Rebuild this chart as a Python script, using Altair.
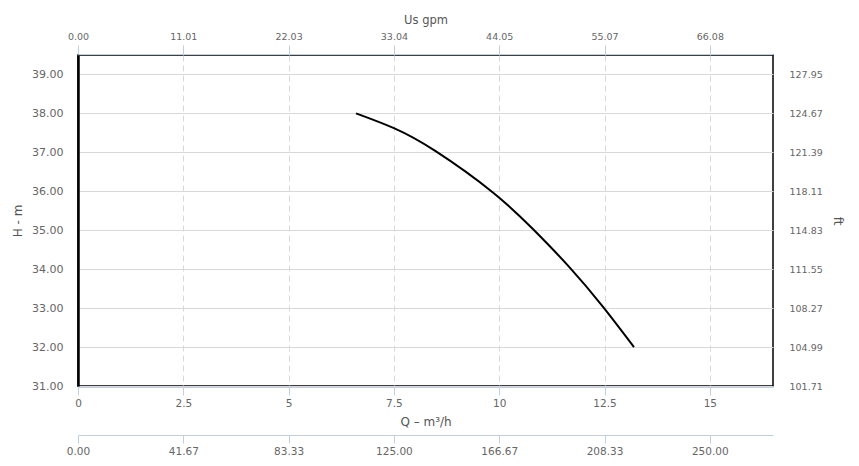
import altair as alt
import pandas as pd

# Curve
flow_m3h = [6.60, 7.5, 8.49, 9.85, 10.80, 11.66, 12.46, 13.20]
head_m = [38.0, 37.62, 37.03, 35.97, 35.03, 34.06, 33.04, 32.0]

# Axis ticks / labels
x_ticks = [0, 2.5, 5, 7.5, 10, 12.5, 15]
x_labels = ["0", "2.5", "5", "7.5", "10", "12.5", "15"]
gpm_labels = ["0.00", "11.01", "22.03", "33.04", "44.05", "55.07", "66.08"]
lmin_labels = ["0.00", "41.67", "83.33", "125.00", "166.67", "208.33", "250.00"]
y_ticks = [31, 32, 33, 34, 35, 36, 37, 38, 39]
ft_labels = ["101.71", "104.99", "108.27", "111.55", "114.83", "118.11", "121.39", "124.67", "127.95"]

df = pd.DataFrame({"Q": flow_m3h, "H": head_m})

FONT = "DejaVu Sans"
LABEL_C = "#666666"
TITLE_C = "#555555"
AXIS_C = "#C0D0E0"
GRID_C = "#D8D8D8"


def expr_map(ticks, labels):
    t = "[" + ",".join(str(v) for v in ticks) + "]"
    l = "[" + ",".join("'" + s + "'" for s in labels) + "]"
    return f"{l}[indexof({t}, datum.value)]"


xscale = alt.Scale(domain=[0, 16.5], nice=False, zero=False)
yscale = alt.Scale(domain=[31, 39.5], nice=False, zero=False)

x_bottom = alt.Axis(
    orient="bottom", values=x_ticks, labelExpr=expr_map(x_ticks, x_labels),
    title="Q – m³/h", grid=True, gridDash=[6, 4], gridColor=GRID_C,
    domainColor=AXIS_C, offset=1, tickColor=AXIS_C, tickSize=8,
    labelPadding=3, labelFont=FONT, labelFontSize=10.5, labelColor=LABEL_C,
    labelFlush=False,
    titleFont=FONT, titleFontSize=12, titleFontWeight="normal", titleColor=TITLE_C,
    titlePadding=8,
)
y_left = alt.Axis(
    orient="left", values=y_ticks, format=".2f", title="H - m",
    grid=True, gridColor=GRID_C, ticks=False, domainColor="black", domainWidth=2.5,
    labelPadding=15, labelFont=FONT, labelFontSize=11, labelColor=LABEL_C,
    labelFlush=False,
    titleFont=FONT, titleFontSize=12, titleFontWeight="normal", titleColor=TITLE_C,
    titlePadding=7,
)
x_lmin = alt.Axis(
    orient="bottom", values=x_ticks, labelExpr=expr_map(x_ticks, lmin_labels),
    title=None, grid=False, offset=49, domainColor=AXIS_C, tickColor=AXIS_C,
    tickSize=8, labelPadding=3, labelFont=FONT, labelFontSize=10.5, labelColor=LABEL_C,
    labelFlush=False,
)
y_right = alt.Axis(
    orient="right", values=y_ticks, labelExpr=expr_map(y_ticks, ft_labels),
    title="ft", grid=False, ticks=False, domain=False, labelPadding=16,
    labelFont=FONT, labelFontSize=9.5, labelColor=LABEL_C, labelFlush=False,
    titleFont=FONT, titleFontSize=12, titleFontWeight="normal", titleColor=TITLE_C,
    titlePadding=8,
)
x_top = alt.Axis(
    orient="top", values=x_ticks, labelExpr=expr_map(x_ticks, gpm_labels),
    title="Us gpm", grid=False, offset=1, domainColor=AXIS_C, tickColor=AXIS_C,
    tickSize=9, labelPadding=4, labelFont=FONT, labelFontSize=9.5, labelColor=LABEL_C,
    labelFlush=False,
    titleFont=FONT, titleFontSize=11.5, titleFontWeight="normal", titleColor=TITLE_C,
    titlePadding=6,
)

base = alt.Chart(df)

curve = base.mark_line(color="black", strokeWidth=2, interpolate="natural").encode(
    x=alt.X("Q:Q", scale=xscale, axis=x_bottom),
    y=alt.Y("H:Q", scale=yscale, axis=y_left),
)
second = base.mark_line(opacity=0).encode(
    x=alt.X("Q:Q", scale=xscale, axis=x_lmin),
    y=alt.Y("H:Q", scale=yscale, axis=y_right),
)
third = base.mark_line(opacity=0).encode(
    x=alt.X("Q:Q", scale=xscale, axis=x_top),
    y=alt.Y("H:Q", scale=yscale, axis=None),
)

chart = (
    alt.layer(curve, second, third)
    .resolve_axis(x="independent", y="independent")
    .properties(
        width=695, height=331,
        autosize=alt.AutoSizeParams(type="none"),
        padding={"left": 70, "top": 47, "right": 76, "bottom": 72},
        background="white",
    )
    .configure_view(stroke="black", strokeWidth=1.5)
)

chart.save("out.html", embed_options={"renderer": "svg", "actions": False})
